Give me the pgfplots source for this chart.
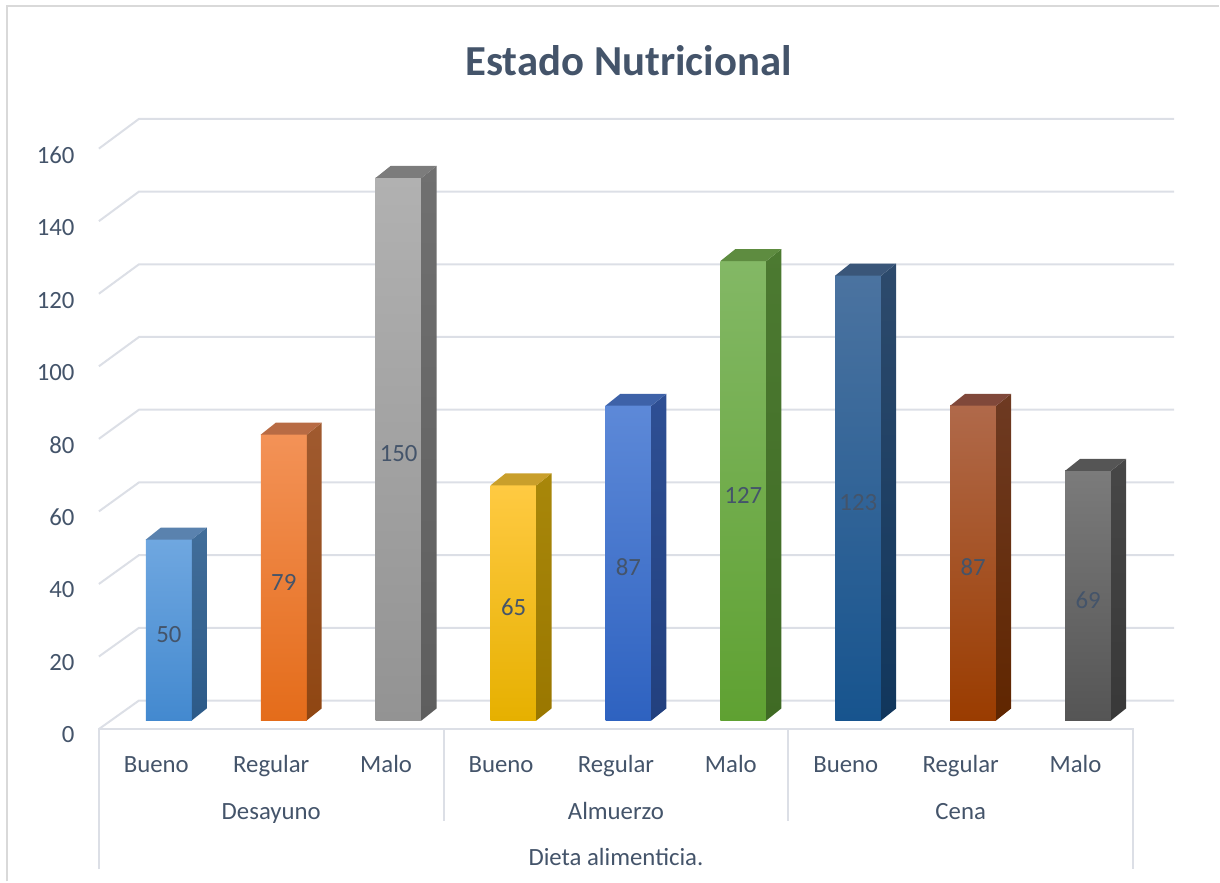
\documentclass[border=0pt]{standalone}
\usepackage{fontspec}
\setmainfont{Carlito}
\usepackage{pgfplots}
\pgfplotsset{compat=1.18}
\definecolor{txt}{HTML}{44546A}
\definecolor{gridc}{HTML}{DCDFE6}
\definecolor{brd}{HTML}{D9D9D9}
% bar colours: front top (A), front bottom (B), side top (C), side bottom (D), top face (E)
\definecolor{aA}{HTML}{6FA7E0}\definecolor{aB}{HTML}{4389CF}\definecolor{aC}{HTML}{426E9A}\definecolor{aD}{HTML}{2C5A88}\definecolor{aE}{HTML}{5A82AE}
\definecolor{bA}{HTML}{F39257}\definecolor{bB}{HTML}{E46C1A}\definecolor{bC}{HTML}{A05A2F}\definecolor{bD}{HTML}{8F4612}\definecolor{bE}{HTML}{B86B44}
\definecolor{cA}{HTML}{B1B1B1}\definecolor{cB}{HTML}{939393}\definecolor{cC}{HTML}{707070}\definecolor{cD}{HTML}{5E5E5E}\definecolor{cE}{HTML}{7C7C7C}
\definecolor{dA}{HTML}{FFCA42}\definecolor{dB}{HTML}{E6B000}\definecolor{dC}{HTML}{A8870A}\definecolor{dD}{HTML}{9A7700}\definecolor{dE}{HTML}{C99F2B}
\definecolor{eA}{HTML}{5D89D8}\definecolor{eB}{HTML}{2E62C0}\definecolor{eC}{HTML}{2E4F94}\definecolor{eD}{HTML}{22407E}\definecolor{eE}{HTML}{3E62A8}
\definecolor{fA}{HTML}{83B865}\definecolor{fB}{HTML}{5FA132}\definecolor{fC}{HTML}{4C7A31}\definecolor{fD}{HTML}{3F6A24}\definecolor{fE}{HTML}{5E8C40}
\definecolor{gA}{HTML}{4B73A0}\definecolor{gB}{HTML}{17548E}\definecolor{gC}{HTML}{2D4A6C}\definecolor{gD}{HTML}{11365C}\definecolor{gE}{HTML}{3A5679}
\definecolor{hA}{HTML}{B0694A}\definecolor{hB}{HTML}{9A3C00}\definecolor{hC}{HTML}{6E3A22}\definecolor{hD}{HTML}{602600}\definecolor{hE}{HTML}{80483A}
\definecolor{iA}{HTML}{7B7B7B}\definecolor{iB}{HTML}{555555}\definecolor{iC}{HTML}{474747}\definecolor{iD}{HTML}{383838}\definecolor{iE}{HTML}{555555}
\tikzset{lbl/.style={font=\fontsize{12.4}{14}\selectfont, text=txt, anchor=center, inner sep=0pt,
  text height=8pt, text depth=0pt}}

% 3D bar: #1 x, #2 value, #3 colour prefix
\newcommand{\tdbar}[3]{%
  \pgfmathsetmacro\xa{#1-0.2}%
  \pgfmathsetmacro\xb{#1+0.2}%
  \pgfmathsetmacro\xc{#1+0.33}%
  \pgfmathsetmacro\xd{#1-0.07}%
  \pgfmathsetmacro\vt{#2+3.3}%
  \pgfmathsetmacro\vl{#2/2-1.3}%
  \addplot[ybar, bar width=0.4, bar shift=0pt, draw=none, mark=none, top color=#3A, bottom color=#3B] coordinates {(#1,#2)};
  \addplot[draw=none, mark=none, top color=#3C, bottom color=#3D] coordinates {(\xb,0) (\xc,3.3) (\xc,\vt) (\xb,#2)} -- cycle;
  \addplot[draw=none, mark=none, fill=#3E] coordinates {(\xa,#2) (\xd,\vt) (\xc,\vt) (\xb,#2)} -- cycle;
  \edef\temp{\noexpand\node[lbl] at (axis cs:#1,\vl) {#2};}\temp
}
\newcommand{\gline}[1]{%
  \pgfmathsetmacro\ga{#1*1.003-2.4}%
  \pgfmathsetmacro\gb{#1*1.005+5.5}%
  \addplot[gridc, line width=1pt, mark=none] coordinates {(-0.609,\ga) (-0.26,\gb) (8.748,\gb)};
}

\begin{document}
\begin{tikzpicture}
\begin{axis}[
  x=57.5pt, y=1.81pt,
  xmin=-1.4696, xmax=9.1391, ymin=-44.475, ymax=199.17,
  axis line style={draw=none}, tick style={draw=none},
  xtick=\empty, ytick={0,20,...,160},
  yticklabel style={anchor=east, inner sep=0pt, xshift=37.5pt, yshift=-7pt,
    font=\fontsize{12.4}{14}\selectfont, text=txt},
  /pgf/number format/assume math mode=true,
  clip=false,
]
% border of chart area
\addplot[brd, line width=1pt, mark=none] coordinates {(-1.4087,-44.475) (-1.4087,197.5) (9.1391,197.5)};
% walls
\gline{0}\gline{20}\gline{40}\gline{60}\gline{80}\gline{100}\gline{120}\gline{140}\gline{160}
% floor front line and separators
\addplot[gridc, line width=1pt, mark=none] coordinates {(-0.609,-41.2) (-0.609,-2.4) (8.391,-2.4) (8.391,-41.2)};
\addplot[gridc, line width=1pt, mark=none] coordinates {(2.391,-2.4) (2.391,-27.9)};
\addplot[gridc, line width=1pt, mark=none] coordinates {(5.391,-2.4) (5.391,-27.9)};

% bars
\tdbar{0}{50}{a}
\tdbar{1}{79}{b}
\tdbar{2}{150}{c}
\tdbar{3}{65}{d}
\tdbar{4}{87}{e}
\tdbar{5}{127}{f}
\tdbar{6}{123}{g}
\tdbar{7}{87}{h}
\tdbar{8}{69}{i}

% category labels
\node[lbl] at (axis cs:-0.109,-12.15) {Bueno};
\node[lbl] at (axis cs:0.891,-12.15) {Regular};
\node[lbl] at (axis cs:1.891,-12.15) {Malo};
\node[lbl] at (axis cs:2.891,-12.15) {Bueno};
\node[lbl] at (axis cs:3.891,-12.15) {Regular};
\node[lbl] at (axis cs:4.891,-12.15) {Malo};
\node[lbl] at (axis cs:5.891,-12.15) {Bueno};
\node[lbl] at (axis cs:6.891,-12.15) {Regular};
\node[lbl] at (axis cs:7.891,-12.15) {Malo};
\node[lbl] at (axis cs:0.891,-25.1) {Desayuno};
\node[lbl] at (axis cs:3.891,-25.1) {Almuerzo};
\node[lbl] at (axis cs:6.891,-25.1) {Cena};
\node[lbl] at (axis cs:3.891,-37.8) {Dieta alimenticia.};
% title
\node[anchor=center, inner sep=0pt, text=txt, text height=13.8pt, text depth=0pt,
  font=\fontsize{21.4}{25}\selectfont\bfseries] at (axis cs:4.0,182) {Estado Nutricional};
\end{axis}
\end{tikzpicture}
\end{document}
